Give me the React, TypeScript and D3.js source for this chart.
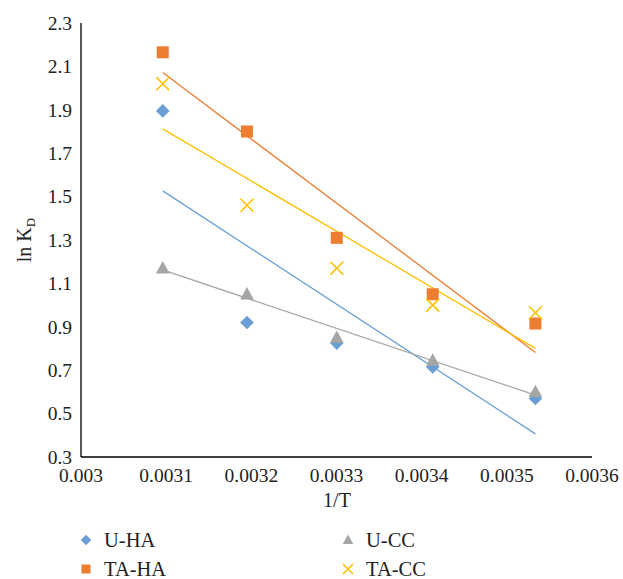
import React from 'react';
import * as d3 from 'd3';

// 1/T for 323, 313, 303, 293, 283 K
const invT = [1 / 323, 1 / 313, 1 / 303, 1 / 293, 1 / 283];

const uHA = [1.895, 0.92, 0.825, 0.715, 0.57];
const taHA = [2.165, 1.8, 1.31, 1.05, 0.915];
const uCC = [1.17, 1.05, 0.85, 0.745, 0.6];
const taCC = [2.02, 1.46, 1.17, 1.0, 0.965];

const xTicks = ['0.003', '0.0031', '0.0032', '0.0033', '0.0034', '0.0035', '0.0036'];
const yTicks = ['0.3', '0.5', '0.7', '0.9', '1.1', '1.3', '1.5', '1.7', '1.9', '2.1', '2.3'];

const series = [
  { name: 'U-HA', values: uHA, color: '#6A9FD6', shape: 'diamond' },
  { name: 'TA-HA', values: taHA, color: '#ED7D31', shape: 'square' },
  { name: 'U-CC', values: uCC, color: '#A5A5A5', shape: 'triangle' },
  { name: 'TA-CC', values: taCC, color: '#FFC000', shape: 'cross' },
];

const W = 623, H = 579;
const x = d3.scaleLinear().domain([0.003, 0.0036]).range([81, 592]);
const y = d3.scaleLinear().domain([0.3, 2.3]).range([457, 23]);

const txt = { fontFamily: "'Liberation Serif', 'Times New Roman', serif" };

// least-squares trendline
function fit(xs, ys) {
  const mx = d3.mean(xs), my = d3.mean(ys);
  let sxy = 0, sxx = 0;
  xs.forEach((v, i) => { sxy += (v - mx) * (ys[i] - my); sxx += (v - mx) * (v - mx); });
  const b = sxy / sxx;
  return (v) => my + b * (v - mx);
}

function Marker({ shape, color, cx, cy, s }) {
  const h = s / 2;
  if (shape === 'square') return <rect x={cx - h} y={cy - h} width={s} height={s} fill={color} />;
  if (shape === 'diamond') {
    const d = h * 1.05;
    return <path d={`M${cx},${cy - d}L${cx + d},${cy}L${cx},${cy + d}L${cx - d},${cy}Z`} fill={color} />;
  }
  if (shape === 'triangle') {
    return <path d={`M${cx},${cy - h * 1.1}L${cx + h * 1.05},${cy + h * 0.8}L${cx - h * 1.05},${cy + h * 0.8}Z`} fill={color} />;
  }
  return (
    <path d={`M${cx - h},${cy - h}L${cx + h},${cy + h}M${cx + h},${cy - h}L${cx - h},${cy + h}`}
      stroke={color} strokeWidth={1.6} fill="none" />
  );
}

export default function App() {
  const legendPos = [[86, 540], [86, 569], [348, 540], [348, 569]];
  return (
    <svg width={W} height={H}
      style={{ display: 'block', background: '#fff', position: 'absolute', left: 0, top: 0 }}>
      {/* trendlines */}
      {series.map((s) => {
        const f = fit(invT, s.values);
        const x0 = invT[0], x1 = invT[invT.length - 1];
        return (
          <line key={'t' + s.name} x1={x(x0)} y1={y(f(x0))} x2={x(x1)} y2={y(f(x1))}
            stroke={s.color} strokeWidth={1.3} />
        );
      })}
      {/* points */}
      {series.map((s) => (
        <g key={'p' + s.name}>
          {s.values.map((v, i) => (
            <Marker key={i} shape={s.shape} color={s.color} cx={x(invT[i])} cy={y(v)} s={s.shape === 'square' ? 12 : 13} />
          ))}
        </g>
      ))}
      {/* axes */}
      <line x1={x(0.003)} y1={y(0.3)} x2={x(0.0036)} y2={y(0.3)} stroke="#000" strokeWidth={1.3} />
      <line x1={x(0.003)} y1={y(0.3)} x2={x(0.003)} y2={y(2.3)} stroke="#000" strokeWidth={1.3} />
      {yTicks.map((t) => (
        <text key={'y' + t} x={72} y={y(+t)} dy="0.35em" textAnchor="end" fontSize={19.5} fill="#222" style={txt}>
          {t}
        </text>
      ))}
      {xTicks.map((t) => (
        <text key={'x' + t} x={x(+t)} y={482} textAnchor="middle" fontSize={19.5} fill="#222" style={txt}>
          {t}
        </text>
      ))}
      <text x={337} y={507} textAnchor="middle" fontSize={20} fill="#222" style={txt}>1/T</text>
      <text transform={`translate(31,${y(1.3)}) rotate(-90)`} textAnchor="middle" fontSize={20} fill="#222" style={txt}>
        ln K<tspan fontSize={13} dy="4">D</tspan>
      </text>
      {/* legend */}
      {series.map((s, i) => (
        <g key={'l' + s.name}>
          <Marker shape={s.shape} color={s.color} cx={legendPos[i][0]} cy={legendPos[i][1]} s={s.shape === 'square' ? 9 : 10} />
          <text x={legendPos[i][0] + 18} y={legendPos[i][1]} dy="0.35em" fontSize={20.5} fill="#222" style={txt}>{s.name}</text>
        </g>
      ))}
    </svg>
  );
}
